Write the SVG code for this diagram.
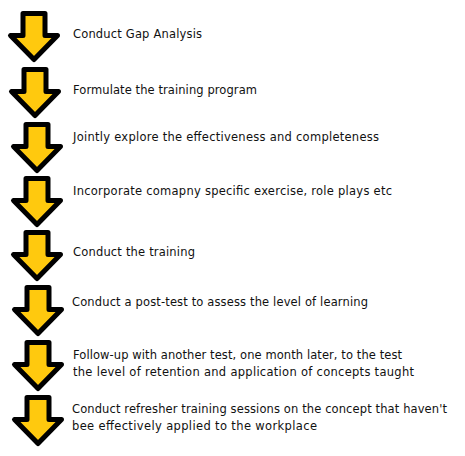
<svg xmlns="http://www.w3.org/2000/svg" xmlns:xlink="http://www.w3.org/1999/xlink" width="465" height="456" viewBox="0 0 465 456">
<style>
.arrow{fill:#FFC90E;stroke:#000;stroke-width:5;stroke-linejoin:round}
.lbl{font-family:"DejaVu Sans","Liberation Sans",sans-serif;font-size:11.5px;fill:#111}
</style>
<defs>
<path id="dn" class="arrow" d="M15,2.5 H37 V24.5 H49.5 L26,48.5 L2.5,24.5 H15 Z"/>
</defs>
<rect width="465" height="456" fill="#fff"/>
<g id="connectors"></g>
<g id="step1"><use xlink:href="#dn" x="8" y="11"/><text class="lbl" x="73" y="37.5" textLength="129" lengthAdjust="spacing">Conduct Gap Analysis</text></g>
<g id="step2"><use xlink:href="#dn" x="9" y="67"/><text class="lbl" x="73" y="94" textLength="184" lengthAdjust="spacing">Formulate the training program</text></g>
<g id="step3"><use xlink:href="#dn" x="11" y="122"/><text class="lbl" x="73" y="140.5" textLength="306" lengthAdjust="spacing">Jointly explore the effectiveness and completeness</text></g>
<g id="step4"><use xlink:href="#dn" x="11" y="176"/><text class="lbl" x="73" y="195" textLength="319" lengthAdjust="spacing">Incorporate comapny specific exercise, role plays etc</text></g>
<g id="step5"><use xlink:href="#dn" x="11" y="230"/><text class="lbl" x="73" y="255.5" textLength="122" lengthAdjust="spacing">Conduct the training</text></g>
<g id="step6"><use xlink:href="#dn" x="12" y="285"/><text class="lbl" x="72" y="305.5" textLength="296" lengthAdjust="spacing">Conduct a post-test to assess the level of learning</text></g>
<g id="step7"><use xlink:href="#dn" x="12" y="340"/><text class="lbl" x="73" y="359" textLength="329" lengthAdjust="spacing">Follow-up with another test, one month later, to the test</text><text class="lbl" x="73" y="375.7" textLength="341" lengthAdjust="spacing">the level of retention and application of concepts taught</text></g>
<g id="step8"><use xlink:href="#dn" x="12" y="395"/><text class="lbl" x="72" y="413.3" textLength="375" lengthAdjust="spacing">Conduct refresher training sessions on the concept that haven't</text><text class="lbl" x="72" y="430" textLength="245" lengthAdjust="spacing">bee effectively applied to the workplace</text></g>
</svg>
